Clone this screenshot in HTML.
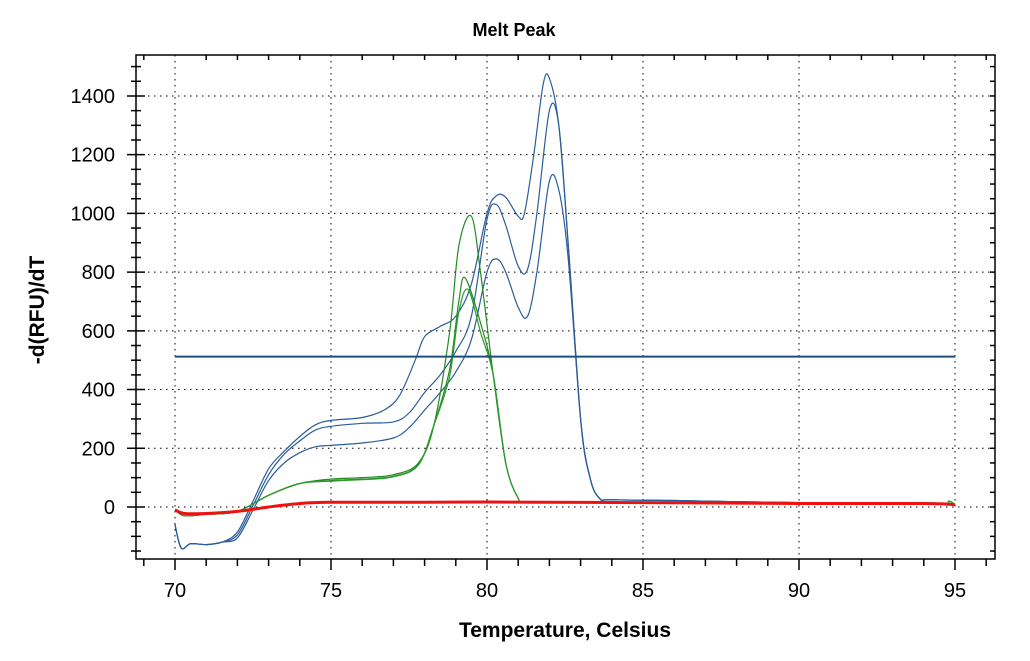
<!DOCTYPE html>
<html><head><style>
body{margin:0;background:#fff;}
svg{display:block;font-family:"Liberation Sans",Arial,sans-serif;}
</style></head><body>
<svg id="c" width="1030" height="661" xmlns="http://www.w3.org/2000/svg">
<rect width="1030" height="661" fill="#fff"/>
<text x="514" y="36" text-anchor="middle" font-size="18" font-weight="bold">Melt Peak</text>
<text x="565" y="637" text-anchor="middle" font-size="21" font-weight="bold">Temperature, Celsius</text>
<text transform="translate(44,310) rotate(-90)" text-anchor="middle" font-size="21" font-weight="bold">-d(RFU)/dT</text>
<g id="grid"></g>
<g id="series" fill="none" stroke-linejoin="round"></g>
<rect x="136" y="55" width="859" height="504" fill="none" stroke="#000" stroke-width="1.5"/>
<g id="ticks" stroke="#000"></g>
<g id="labels" font-size="20"></g>
</svg>
<script>
const X=t=>175+(t-70)*31.2, Y=v=>507-v*0.2936;
const ns="http://www.w3.org/2000/svg";
function el(p,n,a,txt){const e=document.createElementNS(ns,n);for(const k in a)e.setAttribute(k,a[k]);if(txt!==undefined)e.textContent=txt;document.getElementById(p).appendChild(e);}
for(let t=70;t<=95;t+=5){el("grid","line",{x1:X(t),x2:X(t),y1:55,y2:559,stroke:"#000","stroke-dasharray":"1.5 4.5"});
 el("labels","text",{x:X(t),y:597,"text-anchor":"middle"},t);}
for(let v=0;v<=1400;v+=200){el("grid","line",{x1:136,x2:995,y1:Y(v),y2:Y(v),stroke:"#000","stroke-dasharray":"1.5 4.5"});
 el("labels","text",{x:115,y:Y(v)+7,"text-anchor":"end"},v);}
for(let t=69;t<=96;t++){if(X(t)<136||X(t)>995)continue;const maj=t%5==0;
 el("ticks","line",{x1:X(t),x2:X(t),y1:559,y2:559+(maj?11:7),"stroke-width":1.5});
 el("ticks","line",{x1:X(t),x2:X(t),y1:55,y2:55+(maj?0:5),"stroke-width":1.5});}
for(let v=-150;v<=1500;v+=50){const y=Y(v);if(y<55||y>559)continue;const maj=v%200==0;
 el("ticks","line",{x1:maj?127:131,x2:maj?145:141,y1:y,y2:y,"stroke-width":1.5});
 el("ticks","line",{x1:990,x2:995,y1:y,y2:y,"stroke-width":1.5});}
function path(pts,col,w){
 const P=pts.map(p=>[X(p[0]),Y(p[1])]);
 let d="M"+P[0][0].toFixed(1)+","+P[0][1].toFixed(1);
 for(let i=0;i<P.length-1;i++){const p0=P[Math.max(0,i-1)],p1=P[i],p2=P[i+1],p3=P[Math.min(P.length-1,i+2)];
  const c1=[p1[0]+(p2[0]-p0[0])/6,p1[1]+(p2[1]-p0[1])/6],c2=[p2[0]-(p3[0]-p1[0])/6,p2[1]-(p3[1]-p1[1])/6];
  d+="C"+c1.map(v=>v.toFixed(1))+" "+c2.map(v=>v.toFixed(1))+" "+p2.map(v=>v.toFixed(1));}
 el("series","path",{d:d,stroke:col,"stroke-width":w});}
const tail=[[84,25],[86,22],[88,18],[90,15],[92,14],[94,12],[95,8]];
const blueStart=[[70,-60],[70.2,-140],[70.5,-125],[71,-128],[71.5,-120]];
path(blueStart.concat([[72,-85],[72.5,20],[73,130],[73.5,190],[74,240],[74.5,280],[75,295],[76,305],[76.7,330],[77.2,380],[77.7,500],[78,580],[78.5,615],[79,650],[79.5,760],[80,1000],[80.3,1060],[80.6,1055],[81,990],[81.2,1000],[81.5,1200],[81.8,1440],[82,1460],[82.3,1300],[82.6,900],[83,300],[83.3,100],[83.6,30]]).concat(tail),"#2a5d99",1.2);
path(blueStart.concat([[72,-95],[72.5,5],[73,110],[73.5,180],[74,225],[74.5,262],[75,275],[76,285],[77,290],[77.5,320],[78,390],[78.5,450],[79,530],[79.5,650],[80,980],[80.3,1030],[80.6,960],[81,820],[81.3,810],[81.6,1000],[82,1350],[82.3,1300],[82.6,900],[83,300],[83.3,100],[83.6,30]]).concat(tail),"#2a5d99",1.2);
path(blueStart.concat([[72,-105],[72.5,-10],[73,90],[73.5,150],[74,185],[74.5,205],[75,210],[76,218],[77,235],[77.5,270],[78,330],[78.5,390],[79,460],[79.5,570],[80,800],[80.3,845],[80.6,800],[81,680],[81.3,650],[81.6,800],[82,1110],[82.3,1080],[82.6,850],[83,300],[83.3,100],[83.6,30]]).concat(tail),"#2a5d99",1.2);
function green(pk,pv,base){return [[70,-10],[70.3,-30],[71,-25],[72,-15],[73,40],[74,80],[75,base],[76,base+5],[77,base+15],[77.8,base+55],[78.3,280],[78.8,pv*0.6],[79.1,pv*0.9],[pk,pv],[79.8,pv*0.8],[80.2,450],[80.6,150],[81,30],[81.3,15],[84,15],[88,12],[90,14],[92,10],[94.5,10],[94.8,20],[95,8]];}
path(green(79.5,990,95),"#228b22",1.2);
path(green(79.3,780,90),"#228b22",1.2);
path(green(79.4,740,88),"#2e9a2e",1.2);
el("series","line",{x1:X(70),x2:X(95),y1:Y(512),y2:Y(512),stroke:"#1f4e79","stroke-width":2});
path([[70,-10],[70.3,-22],[71,-22],[72,-15],[73,0],[74,12],[75,16],[78,16],[80,17],[85,15],[90,12],[94,12],[95,8]],"#ee1111",3);
</script>
</body></html>
